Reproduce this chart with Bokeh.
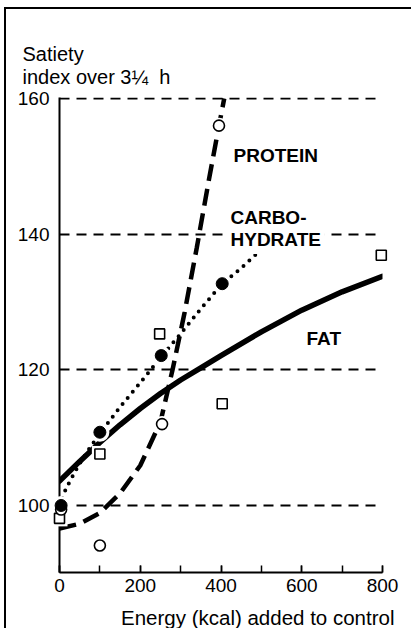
from bokeh.plotting import figure
from bokeh.models import Label, SingleIntervalTicker, FixedTicker
from bokeh.core.properties import value
from bokeh.embed import file_html
from bokeh.resources import INLINE

# ---- data ----
# measured points
protein_x = [4, 100, 254, 395]
protein_y = [99.4, 94.1, 112.0, 156.0]
carb_x = [4, 100, 252, 403]
carb_y = [100.0, 110.8, 122.1, 132.7]
fat_x = [0, 100, 248, 403, 797]
fat_y = [98.1, 107.6, 125.3, 115.0, 136.9]

# fitted curves (as drawn)
fat_curve_x = [0, 50, 100, 150, 200, 250, 300, 350, 400, 500, 600, 700, 800]
fat_curve_y = [103.6, 106.5, 109.3, 111.9, 114.3, 116.5, 118.5, 120.3, 122.1, 125.6, 128.8, 131.5, 133.8]
carb_curve_x = [0, 10, 25, 50, 75, 100, 150, 200, 250, 300, 350, 400, 450, 490]
carb_curve_y = [100.0, 101.7, 103.5, 106.2, 108.5, 110.6, 114.5, 118.1, 121.8, 125.3, 129.0, 132.5, 135.0, 137.2]
protein_curve_x = [0, 50, 100, 150, 200, 250, 280, 310, 340, 370, 395, 408]
protein_curve_y = [96.6, 97.3, 98.9, 101.8, 105.9, 112.3, 120.0, 128.5, 138.0, 148.0, 156.0, 160.0]

y_ticks = [100, 120, 140, 160]
x_tick_interval = 200

FONT = "Liberation Sans"

p = figure(width=407, height=621, x_range=(0, 800), y_range=(90.12, 160.15),
           output_backend="svg", toolbar_location=None,
           min_border_left=53, min_border_right=31, min_border_top=88, min_border_bottom=58,
           styles={"margin-left": "4px", "margin-top": "7px",
                   "border-left": "2px solid black", "border-top": "2px solid black"})
p.outline_line_color = None
p.background_fill_color = "white"
p.border_fill_color = "white"

# axes
p.xaxis.ticker = SingleIntervalTicker(interval=x_tick_interval, num_minor_ticks=2)
p.xaxis.major_tick_in = 7
p.xaxis.major_tick_out = 0
p.xaxis.minor_tick_in = 7
p.xaxis.minor_tick_out = 0
p.xaxis.major_tick_line_width = 1.5
p.xaxis.minor_tick_line_width = 1.5
p.xaxis.major_label_standoff = 6
p.yaxis.ticker = FixedTicker(ticks=y_ticks)
p.yaxis.major_tick_line_color = None
p.yaxis.minor_tick_line_color = None
p.yaxis.major_label_standoff = 4
for ax in (p.xaxis, p.yaxis):
    ax.axis_line_width = 2
    ax.axis_line_color = "black"
    ax.major_label_text_font = FONT
    ax.major_label_text_font_size = "19px"
    ax.major_label_text_color = "black"

p.xgrid.visible = False
p.ygrid.grid_line_color = "black"
p.ygrid.grid_line_width = 1.8
p.ygrid.grid_line_dash = "10 7"

# curves
p.line(fat_curve_x, fat_curve_y, line_width=5.5, line_color="black", line_cap="round")
p.line(carb_curve_x, carb_curve_y, line_width=4, line_color="black", line_dash="0 8", line_cap="round")
p.line(protein_curve_x, protein_curve_y, line_width=4.5, line_color="black", line_dash="17 8")

# white halos under markers
p.scatter(fat_x, fat_y, marker="square", size=16, fill_color="white", line_color=None, level="overlay")
p.scatter(protein_x, protein_y, marker="circle", size=16, fill_color="white", line_color=None, level="overlay")
p.scatter(carb_x, carb_y, marker="circle", size=19, fill_color="white", line_color=None, level="overlay")

# markers
p.scatter(fat_x, fat_y, marker="square", size=10, fill_color="white", line_color="black",
          line_width=1.6, level="overlay")
p.scatter(protein_x, protein_y, marker="circle", size=11, fill_color="white", line_color="black",
          line_width=1.6, level="overlay")
p.scatter(carb_x, carb_y, marker="circle", size=12, fill_color="black", line_color="black",
          level="overlay")

# in-plot series labels
def add_label(text, x, y, bg=None):
    lab = Label(x=x, y=y, text=text, text_font=FONT, text_font_size="19px",
                text_font_style="bold", text_color="black",
                text_align="left", text_baseline="alphabetic")
    if bg:
        lab.background_fill_color = bg
        lab.padding = 4
    p.add_layout(lab)

add_label("PROTEIN", 431, 151.6)
add_label("CARBO-", 423.5, 142.5)
add_label("HYDRATE", 413.6, 139.2, bg="white")
add_label("FAT", 611.8, 124.6)

# axis titles placed outside the frame
title_text = ["Satiety", "index over 3\u00bc\u00a0\u00a0h"]
p.text(x=[-91.6, -91.6], y=[166.6, 163.1], text=title_text,
       text_font=value(FONT), text_font_size=value("20px"), text_color="black",
       text_align="left", text_baseline="alphabetic", level="overlay")
p.text(x=[829.7], y=[83.5], text=["Energy (kcal) added to control"],
       text_font=value(FONT), text_font_size=value("20.5px"), text_color="black",
       text_align="right", text_baseline="alphabetic", level="overlay")

open("out.html", "w").write(file_html(p, INLINE))
